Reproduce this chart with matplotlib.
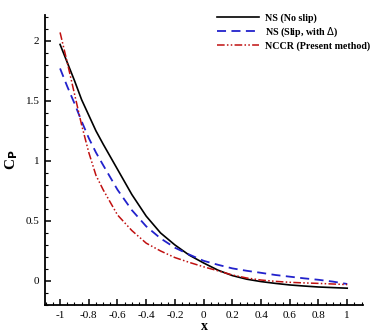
import numpy as np
import matplotlib
matplotlib.use("Agg")
import matplotlib.pyplot as plt
from matplotlib.ticker import MultipleLocator, FuncFormatter

plt.rcParams['font.family'] = 'Liberation Serif'
plt.rcParams['axes.unicode_minus'] = False

# x stations along the surface
x = [-1.0, -0.95, -0.9, -0.85, -0.8, -0.75, -0.7, -0.6, -0.5, -0.4, -0.3, -0.2, -0.1,
     0.0, 0.1, 0.2, 0.3, 0.4, 0.5, 0.6, 0.7, 0.8, 0.9, 1.0]

# pressure coefficient
cp_noslip = [1.97, 1.82, 1.67, 1.51, 1.38, 1.25, 1.14, 0.93, 0.72, 0.54, 0.40, 0.30, 0.215,
             0.15, 0.09, 0.045, 0.015, -0.005, -0.02, -0.033, -0.042, -0.05, -0.055, -0.06]
cp_slip = [1.77, 1.62, 1.48, 1.33, 1.19, 1.07, 0.965, 0.76, 0.59, 0.455, 0.355, 0.277, 0.22,
           0.168, 0.135, 0.105, 0.085, 0.068, 0.05, 0.036, 0.022, 0.01, -0.005, -0.025]
cp_nccr = [2.07, 1.82, 1.56, 1.30, 1.07, 0.88, 0.76, 0.55, 0.42, 0.315, 0.25, 0.195, 0.155,
           0.118, 0.085, 0.05, 0.025, 0.008, -0.003, -0.011, -0.016, -0.02, -0.025, -0.03]

fig = plt.figure(figsize=(3.74, 3.32), dpi=100)
ax = fig.add_axes([0.1203, 0.0813, 0.8503, 0.8735])

ax.plot(x, cp_noslip, color='black', lw=1.2, label='NS (No slip)')
ax.plot(x, cp_slip, color='#2222cc', lw=1.3, linestyle=(0, (5, 3)), label='NS (Slip, with $\\Delta$)')
ax.plot(x, cp_nccr, color='#c01010', lw=1.1, linestyle=(0, (5, 1.5, 1, 1.5, 1, 1.5)),
        label='NCCR (Present method)')

ax.set_xlim(-1.105, 1.11)
ax.set_ylim(-0.2, 2.215)

ax.spines['top'].set_visible(False)
ax.spines['right'].set_visible(False)
ax.spines['left'].set_linewidth(1.3)
ax.spines['bottom'].set_linewidth(1.3)

# tick labels like "-0.8", "0", "1.5"
fmt = FuncFormatter(lambda v, pos: '%g' % round(v, 6))
ax.xaxis.set_major_locator(MultipleLocator(0.2))
ax.xaxis.set_minor_locator(MultipleLocator(0.05))
ax.yaxis.set_major_locator(MultipleLocator(0.5))
ax.yaxis.set_minor_locator(MultipleLocator(0.1))
ax.xaxis.set_major_formatter(fmt)
ax.yaxis.set_major_formatter(fmt)
ax.tick_params(which='major', direction='in', length=4, width=1.1, labelsize=8, pad=4)
ax.tick_params(which='minor', direction='in', length=2, width=0.8)

ax.set_xlabel('x', fontsize=10, fontweight='bold', labelpad=0)
ax.set_ylabel('C$_\\mathbf{P}$', fontsize=11, fontweight='bold')
ax.yaxis.set_label_coords(-0.08, 0.5)

leg = ax.legend(loc='upper right', bbox_to_anchor=(1.035, 1.02), frameon=False,
                borderaxespad=0, prop={'size': 7.2, 'weight': 'bold'}, handlelength=4.2,
                labelspacing=0.25, handletextpad=0.6)

fig.savefig('out.png', dpi=100)
